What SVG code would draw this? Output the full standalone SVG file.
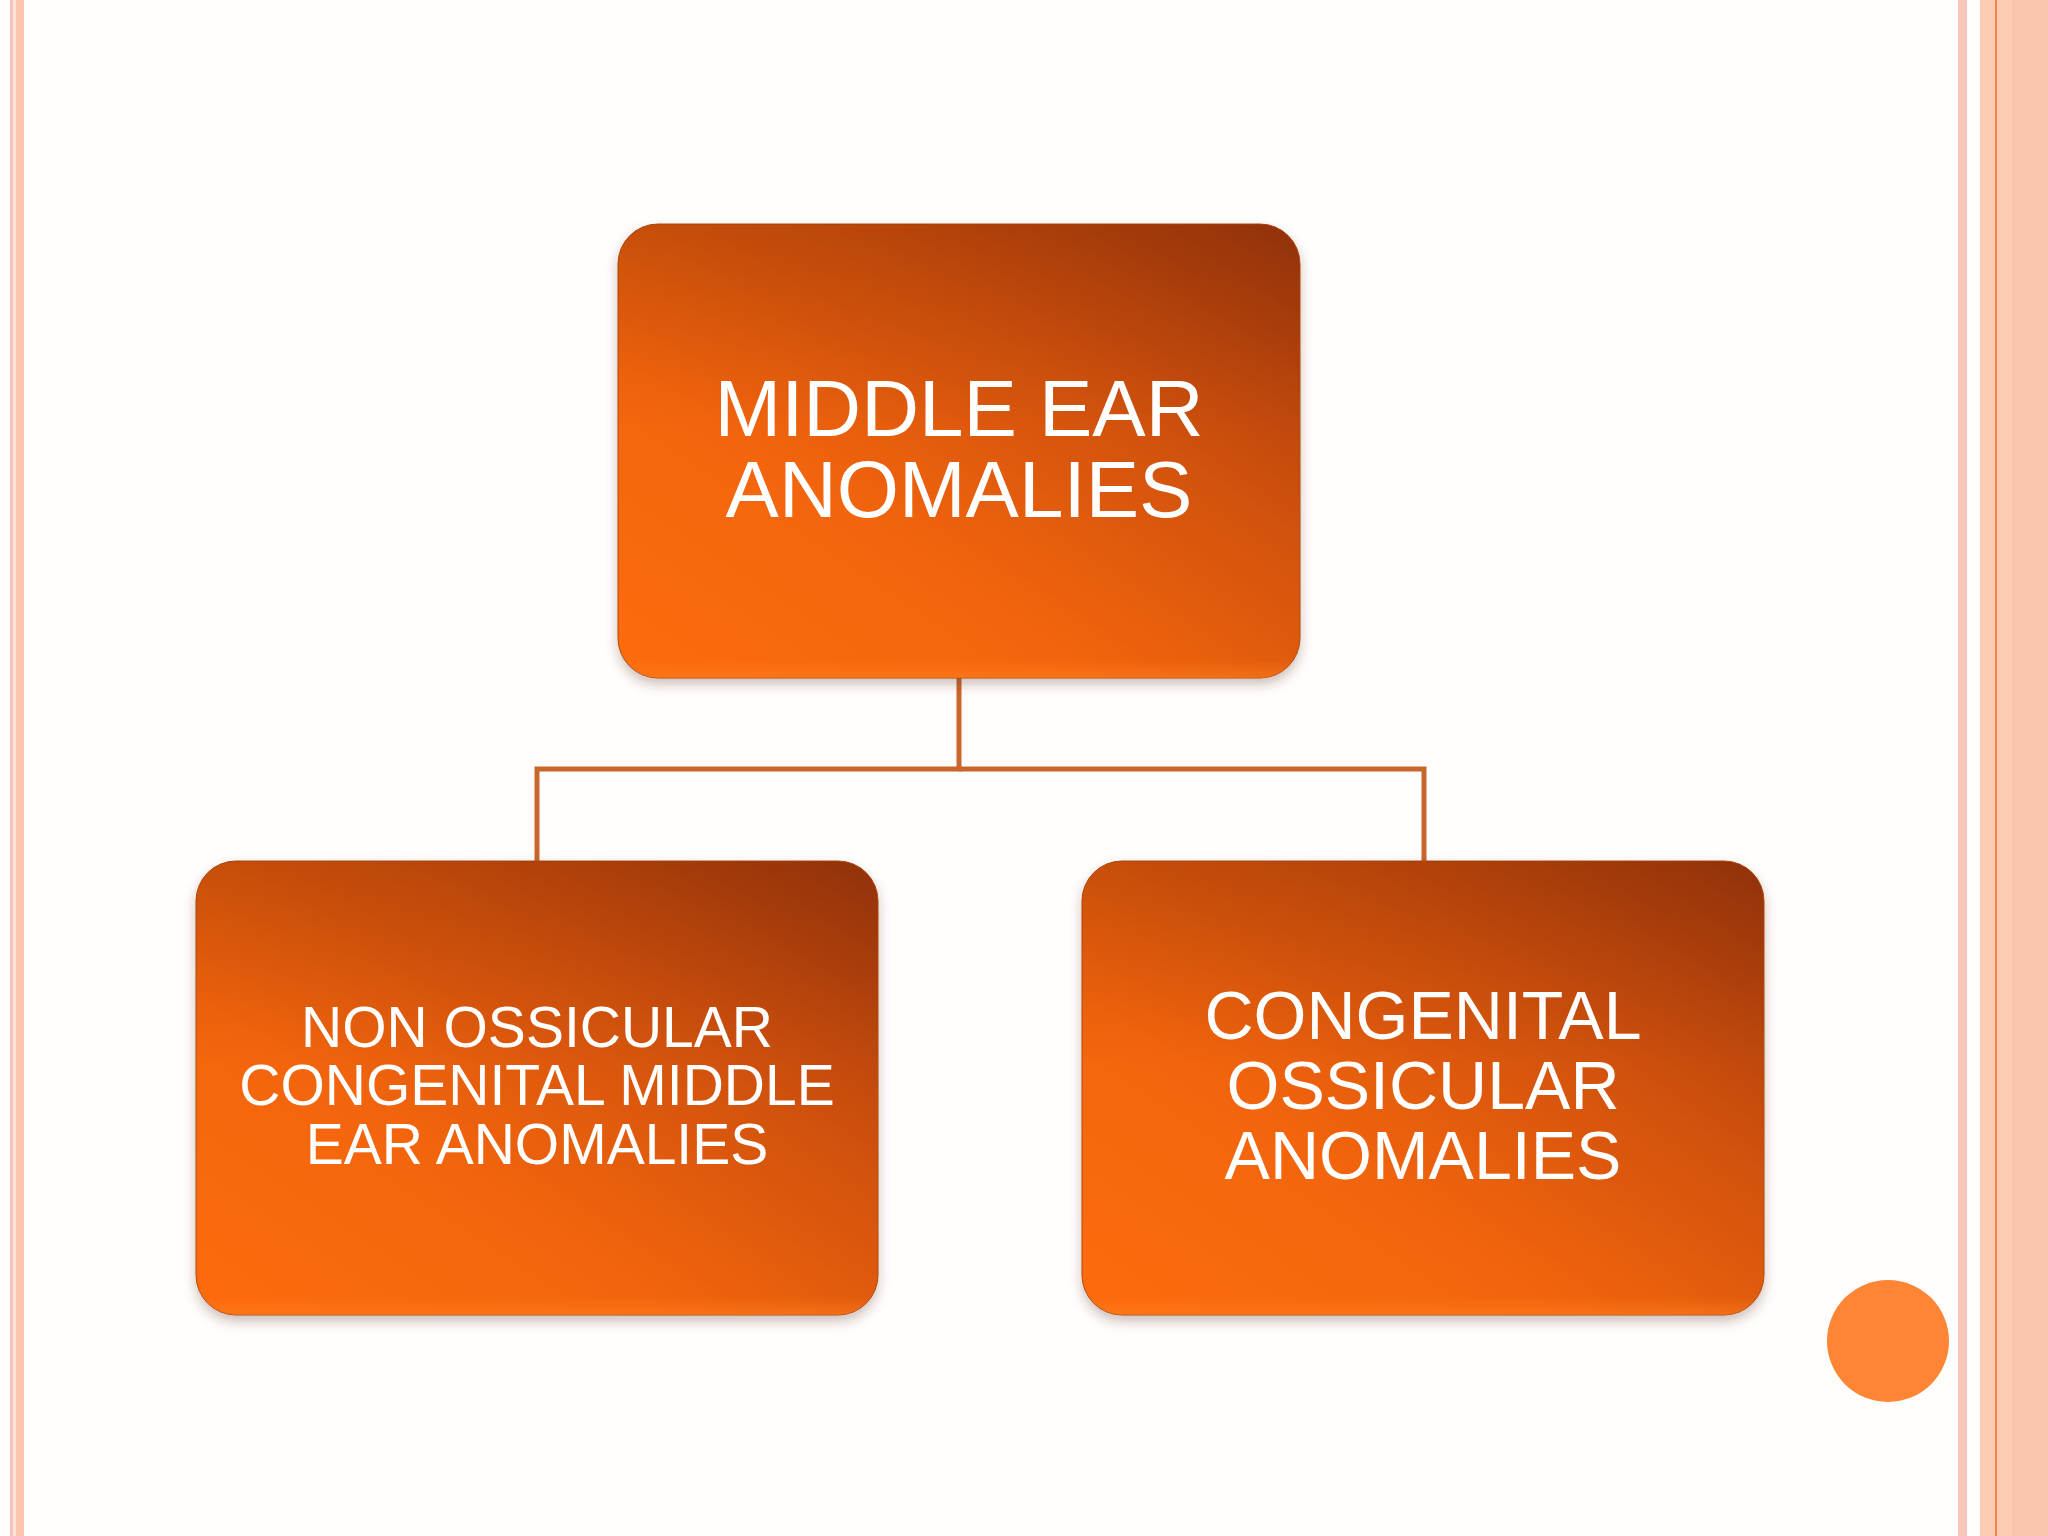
<svg xmlns="http://www.w3.org/2000/svg" width="2048" height="1536" viewBox="0 0 2048 1536">
  <defs>
    <linearGradient id="boxGrad" x1="0" y1="1" x2="1" y2="0">
      <stop offset="0" stop-color="#FD6C0A"/>
      <stop offset="0.35" stop-color="#F3650A"/>
      <stop offset="0.7" stop-color="#CC4F0A"/>
      <stop offset="1" stop-color="#9C360A"/>
    </linearGradient>
    <linearGradient id="topShade" x1="0" y1="0" x2="0" y2="1">
      <stop offset="0" stop-color="#6a2000" stop-opacity="0.22"/>
      <stop offset="0.45" stop-color="#6a2000" stop-opacity="0"/>
      <stop offset="0.96" stop-color="#FF8020" stop-opacity="0"/>
      <stop offset="1" stop-color="#FF8020" stop-opacity="0.5"/>
    </linearGradient>
    <filter id="shadow" x="-10%" y="-10%" width="120%" height="125%">
      <feDropShadow dx="0" dy="6" stdDeviation="6" flood-color="#5a3020" flood-opacity="0.3"/>
    </filter>
    <style>
      .box { fill: url(#boxGrad); stroke: #B24A12; stroke-width: 1; filter: url(#shadow); }
      .shade { fill: url(#topShade); }
      .label { fill: #FFFFFF; font-family: "Liberation Sans", Arial, sans-serif; text-anchor: middle; }
      .conn { fill: none; stroke: #C8662C; stroke-width: 5; }
    </style>
  </defs>

  <rect x="0" y="0" width="2048" height="1536" fill="#FFFEFD"/>

  <!-- left border stripes -->
  <rect x="10" y="0" width="3" height="1536" fill="#F5C3BA"/>
  <rect x="13" y="0" width="3" height="1536" fill="#FCE3DA"/>
  <rect x="16" y="0" width="8" height="1536" fill="#FBC4AC"/>

  <!-- right border stripes -->
  <rect x="1958" y="0" width="9" height="1536" fill="#F9C6BC"/>
  <rect x="1980" y="0" width="68" height="1536" fill="#FCCBB4"/>
  <rect x="2012" y="0" width="36" height="1536" fill="#F9C6AD"/>
  <rect x="1995" y="0" width="2" height="1536" fill="#EF8743"/>

  <g id="connectors">
    <path class="conn" d="M959 678 V769 H537 V861"/>
    <path class="conn" d="M959 769 H1424 V861"/>
  </g>

  <g id="node-top">
    <rect class="box" x="618" y="224" width="682" height="454" rx="40" ry="40"/>
    <rect class="shade" x="618" y="224" width="682" height="454" rx="40" ry="40"/>
    <text class="label" font-size="80" x="959" y="436">MIDDLE EAR</text>
    <text class="label" font-size="80" x="959" y="517">ANOMALIES</text>
  </g>

  <g id="node-left">
    <rect class="box" x="196" y="861" width="682" height="454" rx="40" ry="40"/>
    <rect class="shade" x="196" y="861" width="682" height="454" rx="40" ry="40"/>
    <text class="label" font-size="57" x="537" y="1047">NON OSSICULAR</text>
    <text class="label" font-size="57" x="537" y="1105">CONGENITAL MIDDLE</text>
    <text class="label" font-size="57" x="537" y="1164">EAR ANOMALIES</text>
  </g>

  <g id="node-right">
    <rect class="box" x="1082" y="861" width="682" height="454" rx="40" ry="40"/>
    <rect class="shade" x="1082" y="861" width="682" height="454" rx="40" ry="40"/>
    <text class="label" font-size="68" x="1423" y="1039">CONGENITAL</text>
    <text class="label" font-size="68" x="1423" y="1109">OSSICULAR</text>
    <text class="label" font-size="68" x="1423" y="1179">ANOMALIES</text>
  </g>

  <circle cx="1888" cy="1341" r="61" fill="#FE8533"/>
</svg>
